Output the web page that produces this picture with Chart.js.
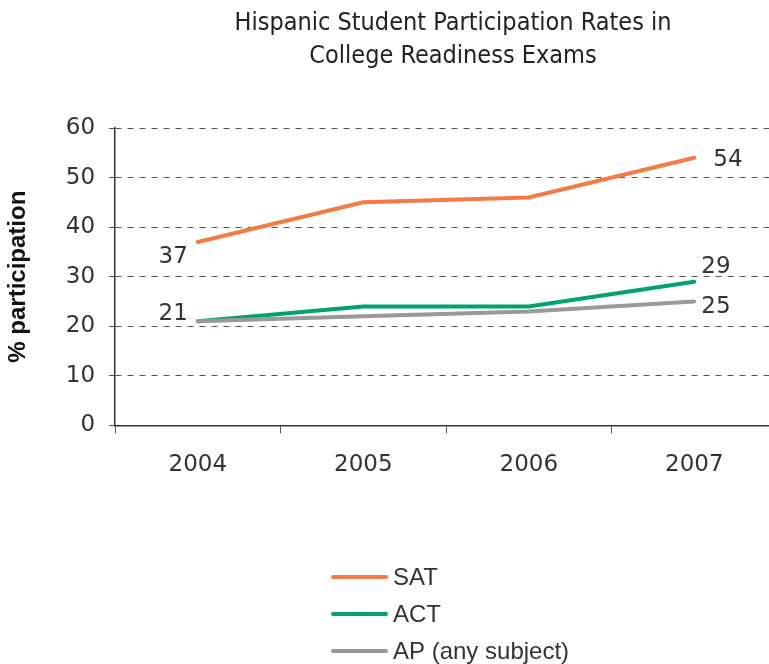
<!DOCTYPE html>
<html>
<head>
<meta charset="utf-8">
<script src="https://cdn.jsdelivr.net/npm/chart.js@4.4.0/dist/chart.umd.min.js"></script>
<style>
html, body { margin: 0; padding: 0; background: #fff; overflow: hidden; }
#wrap { width: 790px; height: 664px; }
</style>
</head>
<body>
<div id="wrap"><canvas id="chart"></canvas></div>
<script>
const years = ['2004', '2005', '2006', '2007'];
const satRates = [37, 45, 46, 54];
const actRates = [21, 24, 24, 29];
const apRates = [21, 22, 23, 25];
const seriesNames = ['SAT', 'ACT', 'AP (any subject)'];
const seriesColors = ['#f47b43', '#00a36c', '#98999d'];
const titleLines = ['Hispanic Student Participation Rates in', 'College Readiness Exams'];

const textColor = '#333333';
const numFont = { family: 'DejaVu Sans', size: 23 };

// numbers written next to the first / last points
const valueLabels = {
    id: 'valueLabels',
    afterDatasetsDraw(chart) {
        const ctx = chart.ctx;
        const spots = [
            { ds: 0, i: 0, dx: -10, dy: 15, align: 'right' },
            { ds: 1, i: 0, dx: -10, dy: -7, align: 'right' },
            { ds: 0, i: 3, dx: 19, dy: 2, align: 'left' },
            { ds: 1, i: 3, dx: 7, dy: -15, align: 'left' },
            { ds: 2, i: 3, dx: 7, dy: 6, align: 'left' }
        ];
        ctx.save();
        ctx.font = '23px "DejaVu Sans"';
        ctx.fillStyle = textColor;
        ctx.textBaseline = 'middle';
        spots.forEach(s => {
            const pt = chart.getDatasetMeta(s.ds).data[s.i];
            const val = chart.data.datasets[s.ds].data[s.i];
            ctx.textAlign = s.align;
            ctx.fillText(val, pt.x + s.dx, pt.y + s.dy);
        });
        ctx.restore();
    }
};

// title centred over the plot, legend stacked under it
const titleAndLegend = {
    id: 'titleAndLegend',
    afterDraw(chart) {
        const ctx = chart.ctx;
        const area = chart.chartArea;
        ctx.save();
        ctx.fillStyle = '#222';
        ctx.textAlign = 'center';
        ctx.textBaseline = 'middle';
        ctx.font = '25px "DejaVu Sans Condensed", "Liberation Sans Narrow", Roboto, sans-serif';
        const cx = (area.left + area.right) / 2 + 7;
        titleLines.forEach((line, k) => ctx.fillText(line, cx, 23 + k * 33));

        ctx.font = '24px "Liberation Sans"';
        ctx.textAlign = 'left';
        chart.data.datasets.forEach((ds, k) => {
            const y = 577 + k * 37;
            ctx.strokeStyle = ds.borderColor;
            ctx.lineWidth = 4;
            ctx.lineCap = 'round';
            ctx.beginPath();
            ctx.moveTo(333, y);
            ctx.lineTo(386, y);
            ctx.stroke();
            ctx.fillStyle = textColor;
            ctx.fillText(ds.label, 393, y + 1);
        });
        ctx.restore();
    }
};

new Chart(document.getElementById('chart'), {
    type: 'line',
    data: {
        labels: years,
        datasets: [
            { label: seriesNames[0], data: satRates, borderColor: seriesColors[0], order: 1 },
            { label: seriesNames[1], data: actRates, borderColor: seriesColors[1], order: 3 },
            { label: seriesNames[2], data: apRates, borderColor: seriesColors[2], order: 2 }
        ].map(d => Object.assign(d, { borderWidth: 4, pointRadius: 0, tension: 0, borderCapStyle: 'round' }))
    },
    options: {
        responsive: true,
        maintainAspectRatio: false,
        animation: false,
        layout: { padding: { top: 128, bottom: 167, left: 4, right: 13 } },
        plugins: {
            legend: { display: false },
            tooltip: { enabled: false }
        },
        scales: {
            x: {
                offset: true,
                grid: { offset: true, drawOnChartArea: false, drawTicks: true, tickLength: 8, color: '#555' },
                border: { color: '#333', width: 1.5 },
                ticks: { color: textColor, font: numFont, padding: 18 }
            },
            y: {
                min: 0,
                max: 60,
                ticks: { stepSize: 10, color: textColor, font: numFont, padding: 14 },
                grid: { color: '#555', tickLength: 6, lineWidth: 1 },
                border: { color: '#333', width: 1.5, dash: [6, 6] },
                title: {
                    display: true,
                    text: '% participation',
                    color: '#111',
                    font: { family: 'Liberation Sans', size: 24, weight: 'bold' },
                    padding: { top: 0, bottom: 19 }
                }
            }
        }
    },
    plugins: [valueLabels, titleAndLegend]
});
</script>
</body>
</html>
